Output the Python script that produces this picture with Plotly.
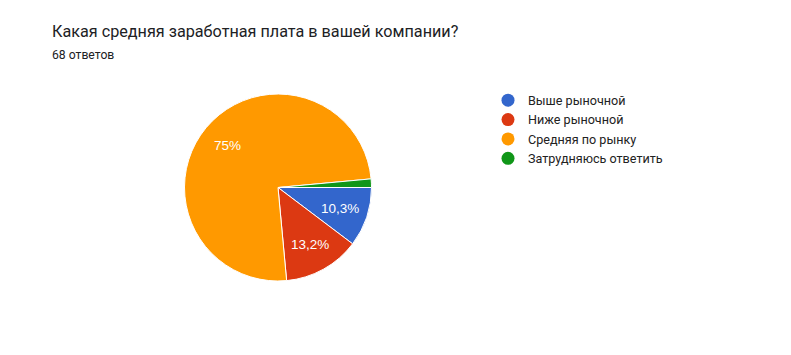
import math
import plotly.graph_objects as go

labels = ["Выше рыночной", "Ниже рыночной", "Средняя по рынку", "Затрудняюсь ответить"]
counts = [7, 9, 51, 1]
colors = ["#3366CC", "#DC3912", "#FF9900", "#109618"]
title = "Какая средняя заработная плата в вашей компании?"
subtitle = "68 ответов"

total = sum(counts)
def fmt(v):
    p = v / total * 100
    if p < 5:
        return ""
    s = f"{p:.1f}"
    if s.endswith(".0"):
        s = s[:-2]
    return s.replace(".", ",") + "%"

texts = [fmt(v) for v in counts]

W, H = 791, 355
cx, cy, r = 278, 187.5, 93.5

fig = go.Figure()
fig.add_trace(go.Pie(
    labels=labels, values=counts, sort=False, direction="clockwise", rotation=90,
    marker=dict(colors=colors, line=dict(color="white", width=1)),
    textinfo="none",
    showlegend=False, hoverinfo="label+percent",
    domain=dict(x=[(cx - r) / W, (cx + r) / W], y=[1 - (cy + r) / H, 1 - (cy - r) / H]),
))
for lab, col in zip(labels, colors):
    fig.add_trace(go.Scatter(x=[None], y=[None], mode="markers", name=lab,
                             marker=dict(symbol="circle", size=13, color=col),
                             showlegend=True))

# slice labels at 0.7 of radius along each slice's mid-angle (derived from data)
annotations = []
acc = 0.0
for v, t in zip(counts, texts):
    mid = (acc + v / 2) / total * 2 * math.pi
    acc += v
    if not t:
        continue
    ang = -mid  # clockwise from 3 o'clock
    px = cx + 0.7 * r * math.cos(ang)
    py = cy - 0.7 * r * math.sin(ang)
    annotations.append(dict(text=t, x=px / W, y=1 - py / H, xref="paper", yref="paper",
                            xanchor="center", yanchor="middle", showarrow=False,
                            font=dict(family="Liberation Sans, Arial", size=13.5, color="white")))

annotations += [
    dict(text=title, x=50 / W, y=1 - 31.5 / H, xref="paper", yref="paper",
         xanchor="left", yanchor="middle", showarrow=False,
         font=dict(family="Roboto", size=16.2, color="#202124")),
    dict(text=subtitle, x=50 / W, y=1 - 55 / H, xref="paper", yref="paper",
         xanchor="left", yanchor="middle", showarrow=False,
         font=dict(family="Roboto", size=12.2, color="#202124")),
]

fig.update_layout(
    width=W, height=H, margin=dict(l=0, r=0, t=0, b=0),
    paper_bgcolor="white", plot_bgcolor="white",
    xaxis=dict(visible=False), yaxis=dict(visible=False),
    legend=dict(x=488 / W, y=1 - 85.5 / H, xanchor="left", yanchor="top",
                font=dict(family="Roboto", size=12.6, color="#222222"),
                itemsizing="trace", tracegroupgap=0, bgcolor="rgba(0,0,0,0)"),
    annotations=annotations,
)
fig.write_html("out.html")
